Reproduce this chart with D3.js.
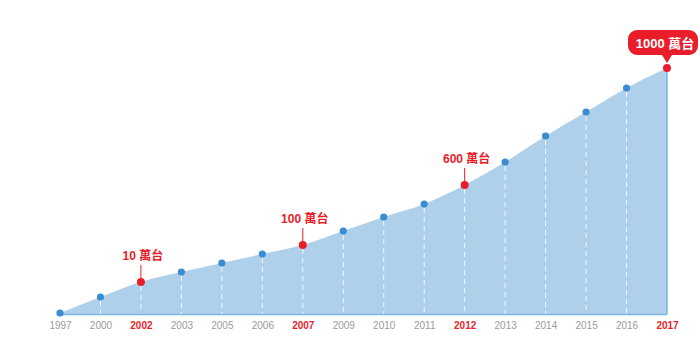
<!DOCTYPE html>
<html>
<head>
<meta charset="utf-8">
<script src="https://cdn.jsdelivr.net/npm/d3@7"></script>
<style>
html,body{margin:0;padding:0;background:#fff;}
svg{display:block;}
</style>
</head>
<body>
<svg id="chart" width="700" height="348"></svg>
<script>
const years = ["1997","2000","2002","2003","2005","2006","2007","2009","2010","2011","2012","2013","2014","2015","2016","2017"];
const values = [0,16,31,41,50,59,68,82,96,109,128,151,177,201,225,245];
const highlightYears = ["2002","2007","2012","2017"];
const highlightLabels = ["10 萬台","100 萬台","600 萬台","1000 萬台"];

const svg = d3.select("#chart");
const x = d3.scalePoint().domain(years).range([60, 667]);
const y = d3.scaleLinear().domain([0, 245]).range([313, 68]);
const baseY = y(0) + 1.5;
const data = years.map((yr, i) => ({year: yr, value: values[i]}));
const red = "#ea1d2a", blue = "#3a8dd3", fill = "#aed0eb", edge = "#7eb5e2";

const area = d3.area().x(d => x(d.year)).y0(baseY).y1(d => y(d.value)).curve(d3.curveMonotoneX);
svg.append("path").datum(data).attr("d", area).attr("fill", fill);

// dashed verticals
svg.selectAll("line.drop").data(data.slice(1, -1)).join("line")
  .attr("x1", d => x(d.year)).attr("x2", d => x(d.year))
  .attr("y1", d => y(d.value) + 4).attr("y2", baseY)
  .attr("stroke", "#fff").attr("stroke-opacity", 0.85).attr("stroke-width", 1)
  .attr("stroke-dasharray", "5,4");

// right edge
const last = data[data.length - 1];
svg.append("line").attr("x1", x(last.year)).attr("x2", x(last.year))
  .attr("y1", y(last.value)).attr("y2", baseY).attr("stroke", edge).attr("stroke-width", 1.5);

// baseline
svg.append("line").attr("x1", x(years[0])).attr("x2", x(last.year))
  .attr("y1", baseY).attr("y2", baseY).attr("stroke", edge).attr("stroke-width", 1.5);

// axis
const axis = d3.axisBottom(x).tickSize(0).tickPadding(0);
const gAxis = svg.append("g").attr("transform", `translate(0,${baseY + 14})`).call(axis);
gAxis.select(".domain").remove();
gAxis.selectAll("text")
  .attr("font-family", "'Liberation Sans', Arial, sans-serif")
  .attr("font-size", 10)
  .attr("dy", "0")
  .attr("fill", d => highlightYears.includes(d) ? red : "#9a9a9a")
  .attr("font-weight", d => highlightYears.includes(d) ? "bold" : "normal");

// annotations (non-callout)
highlightYears.slice(0, 3).forEach((yr, i) => {
  const d = data.find(e => e.year === yr);
  const px = x(yr), py = y(d.value);
  svg.append("line").attr("x1", px).attr("x2", px).attr("y1", py - 17).attr("y2", py - 3)
    .attr("stroke", red).attr("stroke-width", 1);
  svg.append("text").attr("x", px + 2).attr("y", py - 22).attr("text-anchor", "middle")
    .attr("font-family", "'Liberation Sans', 'Noto Sans CJK TC', sans-serif")
    .attr("font-size", 12).attr("font-weight", "bold").attr("fill", red)
    .text(highlightLabels[i]);
});

// callout for last
{
  const px = x(last.year), py = y(last.value);
  const left = 628, right = 698, top = 30, bottom = 55, r = 9;
  const tipY = py - 5;
  const p = d3.path();
  p.moveTo(left + r, top);
  p.lineTo(right - r, top);
  p.arcTo(right, top, right, top + r, r);
  p.lineTo(right, bottom - r);
  p.arcTo(right, bottom, right - r, bottom, r);
  p.lineTo(px + 5, bottom);
  p.lineTo(px, tipY);
  p.lineTo(px - 5, bottom);
  p.lineTo(left + r, bottom);
  p.arcTo(left, bottom, left, bottom - r, r);
  p.lineTo(left, top + r);
  p.arcTo(left, top, left + r, top, r);
  p.closePath();
  svg.append("path").attr("d", p.toString()).attr("fill", red);
  svg.append("text").attr("x", (left + right) / 2 + 2).attr("y", 47.5).attr("text-anchor", "middle")
    .attr("font-family", "'Liberation Sans', 'Noto Sans CJK TC', sans-serif")
    .attr("font-size", 13).attr("font-weight", "bold").attr("fill", "#fff")
    .text(highlightLabels[3]);
}

// dots
svg.selectAll("circle.dot").data(data).join("circle")
  .attr("cx", d => x(d.year)).attr("cy", d => y(d.value))
  .attr("r", d => highlightYears.includes(d.year) ? 4 : 3.6)
  .attr("fill", d => highlightYears.includes(d.year) ? red : blue);
</script>
</body>
</html>
